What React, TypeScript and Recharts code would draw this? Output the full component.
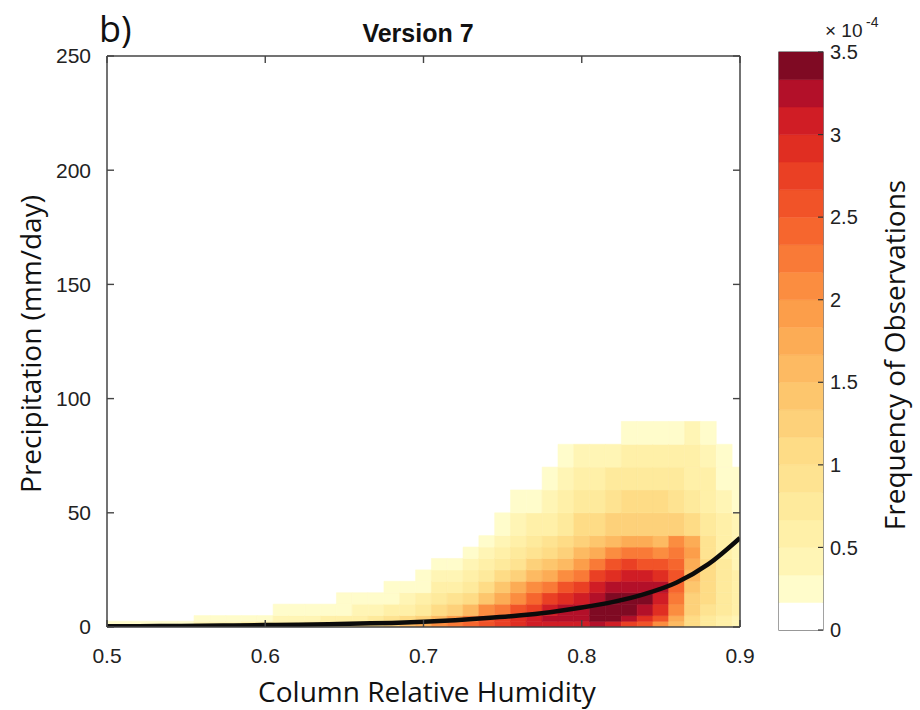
import React from "react";
import {
  BarChart,
  Bar,
  ComposedChart,
  Line,
  XAxis,
  YAxis,
  ReferenceArea,
} from "recharts";

// axis ticks
const xTicks = [0.5, 0.6, 0.7, 0.8, 0.9];
const yTicks = [0, 50, 100, 150, 200, 250];
const cbTicks = [0, 0.5, 1, 1.5, 2, 2.5, 3, 3.5];

// histogram bins: column centres (CRH) and precipitation bin edges (mm/day)
const binCenters = [
  0.5, 0.51, 0.52, 0.53, 0.54, 0.55, 0.56, 0.57, 0.58, 0.59, 0.6, 0.61, 0.62,
  0.63, 0.64, 0.65, 0.66, 0.67, 0.68, 0.69, 0.7, 0.71, 0.72, 0.73, 0.74, 0.75,
  0.76, 0.77, 0.78, 0.79, 0.8, 0.81, 0.82, 0.83, 0.84, 0.85, 0.86, 0.87, 0.88,
  0.89, 0.9,
];
const precipEdges = [0, 2.5, 5, 10, 15, 20, 25, 30, 35, 40, 50, 60, 70, 80, 90];

// frequency of observations (x1e-4), one list per column, lowest bin first
const freq = [
  [0.2],
  [0.2],
  [0.22],
  [0.25],
  [0.28, 0.1],
  [0.3, 0.15],
  [0.35, 0.18],
  [0.4, 0.2],
  [0.45, 0.22],
  [0.5, 0.25, 0.1],
  [0.55, 0.3, 0.15],
  [0.6, 0.35, 0.18],
  [0.65, 0.4, 0.2],
  [0.7, 0.45, 0.22, 0.1],
  [0.8, 0.5, 0.25, 0.15],
  [0.9, 0.55, 0.3, 0.18],
  [1.0, 0.65, 0.35, 0.2, 0.1],
  [1.1, 0.75, 0.4, 0.22, 0.15],
  [1.3, 0.9, 0.5, 0.3, 0.2],
  [1.5, 1.1, 0.6, 0.35, 0.22, 0.15],
  [1.7, 1.3, 0.8, 0.5, 0.3, 0.2],
  [2.0, 1.6, 1.0, 0.7, 0.5, 0.35, 0.2],
  [2.2, 1.9, 1.3, 0.9, 0.65, 0.45, 0.3],
  [2.4, 2.2, 1.6, 1.1, 0.8, 0.6, 0.45, 0.25],
  [2.6, 2.5, 2.0, 1.4, 1.05, 0.8, 0.6, 0.45, 0.25],
  [2.8, 2.7, 2.3, 1.8, 1.35, 1.0, 0.8, 0.6, 0.45, 0.25],
  [2.9, 2.9, 2.6, 2.1, 1.7, 1.3, 0.95, 0.75, 0.6, 0.4, 0.2],
  [3.0, 3.1, 2.8, 2.4, 2.0, 1.6, 1.2, 0.9, 0.75, 0.5, 0.3],
  [3.1, 3.2, 3.0, 2.7, 2.3, 1.8, 1.4, 1.1, 0.9, 0.65, 0.45, 0.2],
  [3.1, 3.3, 3.2, 2.9, 2.5, 2.0, 1.6, 1.25, 1.0, 0.8, 0.55, 0.35, 0.2],
  [3.1, 3.3, 3.3, 3.1, 2.8, 2.3, 1.9, 1.5, 1.3, 1.0, 0.75, 0.55, 0.35],
  [3.2, 3.4, 3.5, 3.3, 3.0, 2.7, 2.3, 1.8, 1.4, 1.1, 0.8, 0.6, 0.4],
  [3.1, 3.4, 3.5, 3.4, 3.2, 2.9, 2.5, 2.0, 1.6, 1.2, 0.9, 0.7, 0.45],
  [2.8, 3.2, 3.4, 3.5, 3.3, 3.0, 2.7, 2.3, 1.8, 1.3, 1.0, 0.8, 0.6, 0.3],
  [2.5, 2.9, 3.3, 3.4, 3.3, 3.0, 2.6, 2.2, 1.7, 1.3, 1.0, 0.8, 0.6, 0.3],
  [2.1, 2.5, 2.9, 3.1, 3.2, 2.9, 2.5, 2.0, 1.6, 1.2, 1.0, 0.8, 0.6, 0.3],
  [1.5, 1.7, 2.0, 2.2, 2.4, 2.5, 2.4, 2.3, 2.0, 1.3, 0.9, 0.7, 0.5, 0.3],
  [1.0, 1.1, 1.2, 1.3, 1.4, 1.5, 1.7, 1.9, 1.8, 1.1, 0.8, 0.6, 0.5, 0.35],
  [0.7, 0.8, 0.9, 1.0, 1.0, 1.0, 1.0, 0.9, 0.85, 0.75, 0.6, 0.5, 0.4, 0.3],
  [0.5, 0.6, 0.7, 0.7, 0.7, 0.7, 0.7, 0.65, 0.6, 0.5, 0.4, 0.3, 0.2],
  [0.4, 0.45, 0.5, 0.5, 0.5, 0.5, 0.45, 0.4, 0.4, 0.35, 0.25, 0.2],
];

// black fitted curve
const curveCRH = [
  0.5, 0.52, 0.54, 0.56, 0.58, 0.6, 0.62, 0.64, 0.66, 0.68, 0.7, 0.72, 0.74,
  0.76, 0.78, 0.8, 0.82, 0.84, 0.86, 0.88, 0.9,
];
const curvePrecip = [
  0.3, 0.35, 0.45, 0.55, 0.7, 0.85, 1.0, 1.2, 1.5, 1.8, 2.3, 3.0, 3.9, 5.0,
  6.5, 8.5, 11.0, 14.5, 19.5, 27.5, 39,
];

// discrete colormap, 21 levels between 0 and 3.5e-4
const levelColors = [
  "#ffffff", "#fffccb", "#fff5b5", "#fff0a8", "#feea9c", "#fee391",
  "#fedc86", "#fdd17a", "#fdc66d", "#fdba62", "#fcac55", "#fc9e4a",
  "#fb8d40", "#f97a37", "#f6662e", "#f15328", "#ea4024", "#e02e22",
  "#d01d25", "#b31029", "#7f0a23",
];
const CB_MAX = 3.5;
const STEP = CB_MAX / levelColors.length;
const BIN_HALF = 0.005;

const levelOf = (v: number) =>
  Math.min(levelColors.length - 1, Math.floor(v / STEP + 1e-9));

const curveData = curveCRH.map((x, i) => ({ x, p: curvePrecip[i] }));

// one stacked column, one slice per colour level
const cbRow: Record<string, string | number> = { k: "cb" };
levelColors.forEach((_, i) => {
  cbRow["l" + i] = STEP;
});
const cbData = [cbRow];

const cells = freq.flatMap((col, c) =>
  col
    .map((v, r) => ({
      x1: binCenters[c] - BIN_HALF,
      x2: binCenters[c] + BIN_HALF,
      y1: precipEdges[r],
      y2: precipEdges[r + 1],
      level: levelOf(v),
    }))
    .filter((d) => d.level > 0)
);

const SANS = "'Liberation Sans', Arial, sans-serif";
const labelFont = "'Open Sans', sans-serif";
const AXIS = "#444";
const TICK_LEN = 7;

// inward (MATLAB style) ticks drawn together with their labels
const BottomTick = (props: any) => {
  const { x, y, payload } = props;
  const y0 = y - 21;
  return (
    <g>
      <line x1={x} x2={x} y1={y0} y2={y0 - TICK_LEN} stroke={AXIS} strokeWidth={1.4} />
      <text x={x} y={y} dy="0.71em" textAnchor="middle" fontFamily={SANS} fontSize={21} fill="#222">
        {Number(payload.value).toFixed(1)}
      </text>
    </g>
  );
};

const LeftTick = (props: any) => {
  const { x, y, payload } = props;
  const x0 = x + 16;
  return (
    <g>
      <line x1={x0} x2={x0 + TICK_LEN} y1={y} y2={y} stroke={AXIS} strokeWidth={1.4} />
      <text x={x} y={y} dy="0.355em" textAnchor="end" fontFamily={SANS} fontSize={21} fill="#222">
        {payload.value}
      </text>
    </g>
  );
};

const TopTick = (props: any) => {
  const { x, y } = props;
  return <line x1={x} x2={x} y1={y} y2={y + TICK_LEN} stroke={AXIS} strokeWidth={1.4} />;
};

const RightTick = (props: any) => {
  const { x, y } = props;
  return <line x1={x} x2={x - TICK_LEN} y1={y} y2={y} stroke={AXIS} strokeWidth={1.4} />;
};

const ColorbarTick = (props: any) => {
  const { x, y, payload } = props;
  const x0 = x - 7;
  return (
    <g>
      <line x1={x0} x2={x0 - 5} y1={y} y2={y} stroke="#333" strokeWidth={1.2} />
      <text x={x} y={y} dy="0.355em" textAnchor="start" fontFamily={SANS} fontSize={20} fill="#222">
        {payload.value}
      </text>
    </g>
  );
};

export default function App() {
  return (
    <div
      style={{
        position: "absolute",
        left: 0,
        top: 0,
        width: 920,
        height: 710,
        background: "#fff",
        overflow: "hidden",
      }}
    >
      <div style={{ position: "absolute", left: 0, top: 0 }}>
        <ComposedChart
          width={760}
          height={710}
          data={curveData}
          margin={{ top: 55, right: 19, bottom: 43, left: 47 }}
        >
          <XAxis
            dataKey="x"
            type="number"
            domain={[0.5, 0.9]}
            ticks={xTicks}
            allowDataOverflow
            height={40}
            tick={<BottomTick />}
            tickLine={false}
            tickSize={0}
            tickMargin={21}
            axisLine={{ stroke: AXIS, strokeWidth: 1.5 }}
          />
          <XAxis
            xAxisId="top"
            dataKey="x"
            orientation="top"
            type="number"
            domain={[0.5, 0.9]}
            ticks={xTicks}
            allowDataOverflow
            height={1}
            tick={<TopTick />}
            tickLine={false}
            tickSize={0}
            tickMargin={0}
            axisLine={{ stroke: AXIS, strokeWidth: 1.5 }}
          />
          <YAxis
            type="number"
            domain={[0, 250]}
            ticks={yTicks}
            allowDataOverflow
            width={60}
            tick={<LeftTick />}
            tickLine={false}
            tickSize={0}
            tickMargin={16}
            axisLine={{ stroke: AXIS, strokeWidth: 1.5 }}
          />
          <YAxis
            yAxisId="right"
            orientation="right"
            type="number"
            domain={[0, 250]}
            ticks={yTicks}
            allowDataOverflow
            width={1}
            tick={<RightTick />}
            tickLine={false}
            tickSize={0}
            tickMargin={0}
            axisLine={{ stroke: AXIS, strokeWidth: 1.5 }}
          />
          {cells.map((d, i) => (
            <ReferenceArea
              key={i}
              x1={d.x1}
              x2={d.x2}
              y1={d.y1}
              y2={d.y2}
              fill={levelColors[d.level]}
              fillOpacity={1}
              stroke={levelColors[d.level]}
              strokeWidth={0.6}
              ifOverflow="hidden"
            />
          ))}
          <Line
            dataKey="p"
            type="monotone"
            stroke="#0b0b0b"
            strokeWidth={4.5}
            dot={false}
            isAnimationActive={false}
          />
        </ComposedChart>
      </div>

      <div style={{ position: "absolute", left: 760, top: 0 }}>
        <BarChart
          width={140}
          height={710}
          data={cbData}
          barCategoryGap={0}
          margin={{ top: 52, right: 17, bottom: 80, left: 19 }}
        >
          <XAxis dataKey="k" type="category" hide />
          <YAxis
            orientation="right"
            type="number"
            domain={[0, CB_MAX]}
            ticks={cbTicks}
            allowDataOverflow
            width={60}
            tick={<ColorbarTick />}
            tickLine={false}
            tickSize={0}
            tickMargin={7}
            axisLine={false}
          />
          {levelColors.map((c, i) => (
            <Bar
              key={i}
              dataKey={"l" + i}
              stackId="cb"
              fill={c}
              stroke={c}
              strokeWidth={0.5}
              isAnimationActive={false}
            />
          ))}
          <ReferenceArea
            x1="cb"
            x2="cb"
            y1={0}
            y2={CB_MAX}
            fill="none"
            fillOpacity={0}
            stroke="#333"
            strokeWidth={1.2}
          />
        </BarChart>
      </div>

      <svg
        width={920}
        height={710}
        style={{ position: "absolute", left: 0, top: 0, pointerEvents: "none" }}
      >
        <text x={99} y={42} fontFamily={labelFont} fontSize={36} fill="#111">
          b)
        </text>
        <text
          x={418}
          y={42}
          textAnchor="middle"
          fontFamily={SANS}
          fontWeight="bold"
          fontSize={25}
          fill="#111"
        >
          Version 7
        </text>
        <text x={825} y={37} fontFamily={SANS} fontSize={19} fill="#222">
          × 10
        </text>
        <text x={866} y={27} fontFamily={SANS} fontSize={14} fill="#222">
          -4
        </text>
        <text
          x={427}
          y={702}
          textAnchor="middle"
          fontFamily={labelFont}
          fontSize={28}
          fill="#111"
        >
          Column Relative Humidity
        </text>
        <text
          transform="translate(41,344) rotate(-90)"
          textAnchor="middle"
          fontFamily={labelFont}
          fontSize={28}
          fill="#111"
        >
          Precipitation (mm/day)
        </text>
        <text
          transform="translate(905,355) rotate(-90)"
          textAnchor="middle"
          fontFamily={labelFont}
          fontSize={28}
          fill="#111"
        >
          Frequency of Observations
        </text>
      </svg>
    </div>
  );
}
